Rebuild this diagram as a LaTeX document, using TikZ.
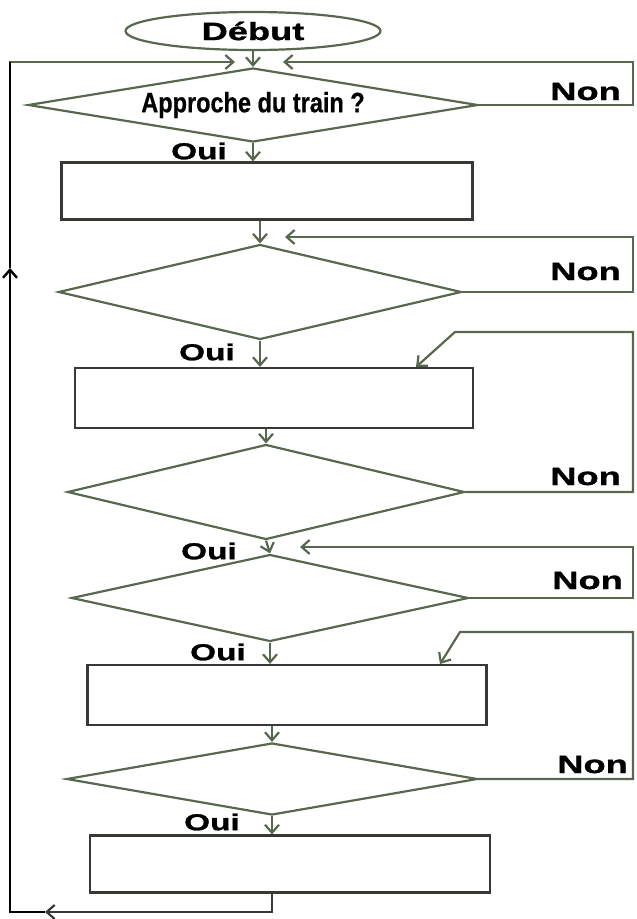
\documentclass[tikz,border=0pt]{standalone}
\usepackage{fontspec}
\usepackage{tikz}
\usetikzlibrary{arrows.meta, positioning, shapes.geometric}

\newfontfamily\widefont[FakeStretch=1.45, FakeBold=1.2]{Liberation Sans}
\newfontfamily\narrowfont[FakeStretch=0.84, FakeBold=0.6]{Liberation Sans}
\definecolor{flowline}{RGB}{88,104,78}
\definecolor{boxline}{RGB}{55,58,52}

\begin{document}
\begin{tikzpicture}[
            x=1pt, y=-1pt,
            line/.style={draw=flowline, line width=2.2pt},
            arrow/.style={line, -{Straight Barb[length=8pt, width=14pt]}},
            test/.style={diamond, line, inner sep=0pt, shape aspect=6},
            action/.style={rectangle, draw=boxline, line width=2.2pt, inner sep=0pt},
            word/.style={font=\widefont\bfseries\fontsize{25}{27}\selectfont, inner sep=0pt},
            oui/.style={font=\widefont\bfseries\fontsize{23}{25}\selectfont, inner sep=0pt}
        ]
        \useasboundingbox (0,0) rectangle (637,919);

        % Start and tests
        \node (debut) at (253,31) [ellipse, line, minimum width=255pt, minimum height=38pt, word] {Début};
        \node (d1) at (253,105) [test, minimum width=450pt, minimum height=74pt,
            font=\narrowfont\bfseries\fontsize{28}{30}\selectfont] {Approche du train ?};
        \node (b1) at (267,191) [action, minimum width=411pt, minimum height=57pt] {};
        \node (d2) at (260,292) [test, minimum width=403pt, minimum height=95pt] {};
        \node (b2) at (274,398) [action, minimum width=398pt, minimum height=60pt] {};
        \node (d3) at (266,492) [test, minimum width=397pt, minimum height=95pt] {};
        \node (d4) at (270,598) [test, minimum width=397pt, minimum height=87pt] {};
        \node (b3) at (287,695) [action, minimum width=399pt, minimum height=60pt] {};
        \node (d5) at (272,779) [test, minimum width=411pt, minimum height=72pt] {};
        \node (b4) at (290,864) [action, minimum width=400pt, minimum height=57pt] {};

        % Oui / Non labels
        \node (oui1) at (199,151) [oui] {Oui};
        \node (oui2) at (207,352) [oui] {Oui};
        \node (oui3) at (209,551) [oui] {Oui};
        \node (oui4) at (218,652) [oui] {Oui};
        \node (oui5) at (212,822) [oui] {Oui};
        \node (non1) at (621,100) [word, anchor=base east] {Non};
        \node (non2) at (621,280) [word, anchor=base east] {Non};
        \node (non3) at (621,485) [word, anchor=base east] {Non};
        \node (non4) at (623,589) [word, anchor=base east] {Non};
        \node (non5) at (628,773) [word, anchor=base east] {Non};

        % Corners of the loops
        \coordinate (r1) at (633,62);
        \coordinate (in1) at (283,62);
        \coordinate (r2) at (633,237);
        \coordinate (in2) at (285,237);
        \coordinate (r3) at (633,332);
        \coordinate (k3) at (455,332);
        \coordinate (in3) at (416,367);
        \coordinate (r4) at (633,547);
        \coordinate (in4) at (300,547);
        \coordinate (r5) at (633,632);
        \coordinate (k5) at (460,632);
        \coordinate (in5) at (440,664);
        \coordinate (mb) at (45,912);
        \coordinate (bl) at (10,912);
        \coordinate (ml) at (10,268);
        \coordinate (tl) at (10,62);
        \coordinate (in0) at (235,62);

        % Main flow
        \draw [arrow] (debut.south) -- (d1.north);
        \draw [arrow] (d1.south) -- (d1.south |- b1.north);
        \draw [arrow] (d2.north |- b1.south) -- (d2.north);
        \draw [arrow] (d2.south) -- (d2.south |- b2.north);
        \draw [arrow] (b2.south -| d3.north) -- (d3.north);
        \draw [arrow] (d3.south) -- (d4.north);
        \draw [arrow] (d4.south) -- (d4.south |- b3.north);
        \draw [arrow] (d5.north |- b3.south) -- (d5.north);
        \draw [arrow] (d5.south) -- (d5.south |- b4.north);

        % Non branches
        \draw [arrow] (d1.east) -| (r1) -- (in1);
        \draw [arrow] (d2.east) -| (r2) -- (in2);
        \draw [arrow] (d3.east) -| (r3) -- (k3) -- (in3);
        \draw [arrow] (d4.east) -| (r4) -- (in4);
        \draw [arrow] (d5.east) -| (r5) -- (k5) -- (in5);

        % Back to the start
        \draw [arrow, draw=boxline] (d5.south |- b4.south) |- (mb);
        \draw [arrow, draw=black, line width=2.4pt] (mb) -- (bl) -- (ml);
        \draw [arrow] (ml) -- (tl) -- (in0);
        \draw [draw=black, line width=2.4pt] (ml) -- (tl);
\end{tikzpicture}
\end{document}
